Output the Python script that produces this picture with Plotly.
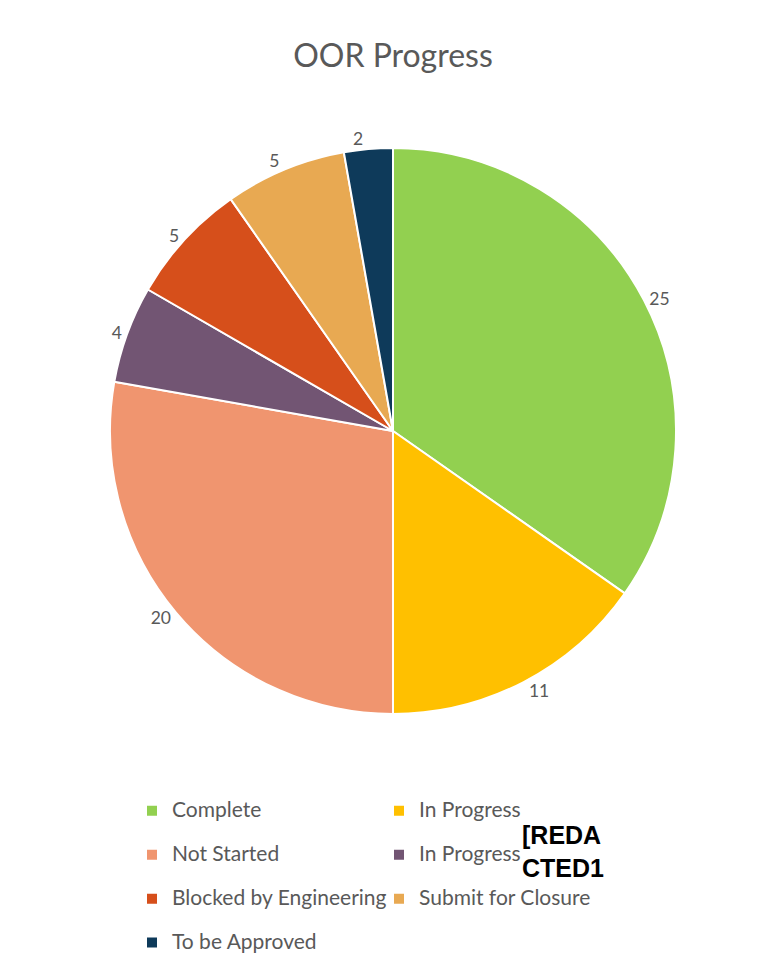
import plotly.graph_objects as go

categories = ["Complete", "In Progress", "Not Started", "In Progress ",
              "Blocked by Engineering", "Submit for Closure", "To be Approved"]
values = [25, 11, 20, 4, 5, 5, 2]
colors = ["#92D050", "#FFC000", "#F0956F", "#725573", "#D64F1B", "#E8A952", "#0E3A5A"]

W, H = 762, 972
MR = 90            # right margin (keeps legend at two columns)
PW = W - MR        # plot-area width
OFF = 8            # page body margin
cx, cy, r = 393 - OFF, 431 - OFF, 283

legend_labels = ["<span style='font-size:21px'>%s</span><br> " % c for c in categories]

fig = go.Figure(go.Pie(
    labels=legend_labels,
    values=values,
    sort=False,
    direction="clockwise",
    rotation=0,
    marker=dict(colors=colors, line=dict(color="white", width=2)),
    textposition="outside",
    texttemplate="%{value}",
    textfont=dict(family="Lato", size=17.5, color="#595959"),
    domain=dict(x=[(cx - r) / PW, (cx + r) / PW], y=[1 - (cy + r) / H, 1 - (cy - r) / H]),
    hovertemplate="%{value}<extra></extra>",
))

fig.update_layout(
    width=W, height=H,
    margin=dict(l=0, r=MR, t=0, b=0),
    paper_bgcolor="white",
    plot_bgcolor="white",
    title=dict(text="OOR Progress", x=cx / W, xanchor="center", y=1 - 48 / H, yanchor="middle",
               font=dict(family="Lato", size=32, color="#595959")),
    showlegend=True,
    legend=dict(orientation="h", x=124 / PW, xanchor="left", y=0, yanchor="bottom",
                entrywidth=202, entrywidthmode="pixels", itemwidth=30, valign="top",
                font=dict(family="Lato", size=15.75, color="#595959"), traceorder="normal"),
    annotations=[dict(text="<b>[REDA<br>CTED1</b>", x=512 / PW, y=1 - 843 / H, xref="paper", yref="paper",
                      xanchor="left", yanchor="middle", showarrow=False, align="left",
                      font=dict(family="Liberation Sans", size=25, color="black"))],
)

fig.write_html("out.html")
